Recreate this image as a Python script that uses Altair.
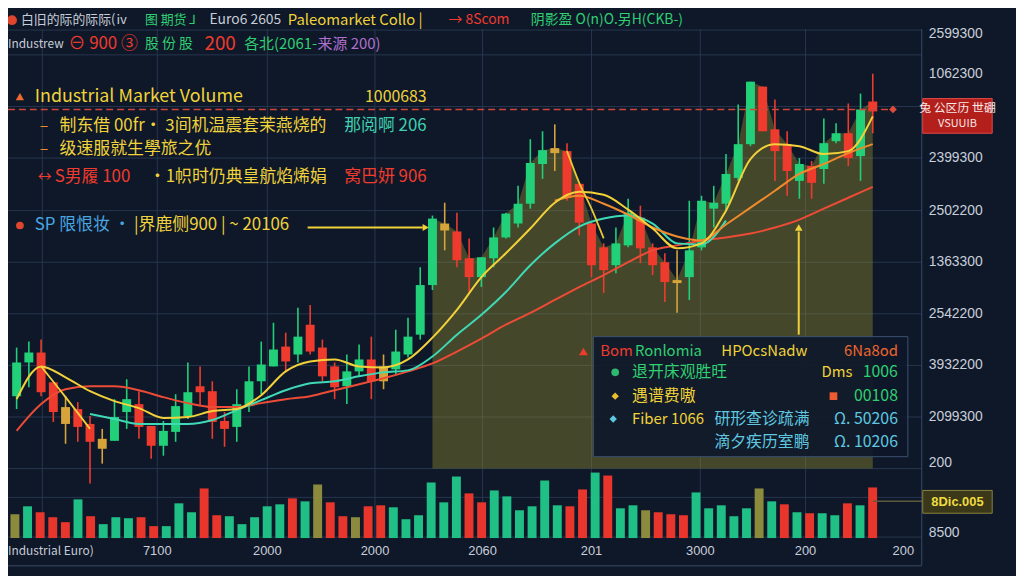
import altair as alt
import pandas as pd

# ---------------- data ----------------
opens  = [203,237,247,217,192,190,175,160,158,187,195,173,153,167,183,213,208,178,172,193,
          218,233,253,245,275,252,233,213,228,240,218,230,245,265,315,370,369,342,323,342,
          363,377,397,437,453,450,417,377,353,335,355,383,353,338,320,323,353,392,397,423,
          457,515,472,457,420,435,432,460,468,445,500]
closes = [237,247,207,187,175,172,157,150,182,200,172,153,168,193,207,207,177,170,195,218,
          235,250,238,263,248,223,212,228,240,218,233,248,263,315,382,377,340,323,343,363,
          387,397,438,451,448,403,378,335,330,357,388,352,335,318,317,350,400,398,427,457,
          520,470,450,430,437,418,458,468,443,492,490]
highs  = [252,258,260,217,203,197,183,170,200,220,208,173,178,205,237,233,218,187,210,233,
          258,277,267,292,295,260,237,245,255,263,245,270,282,333,385,398,388,362,343,373,
          388,415,462,470,477,458,418,378,357,373,402,395,357,347,350,400,405,415,447,497,
          520,515,502,470,443,440,483,478,498,508,528]
lows   = [190,212,203,177,155,157,115,135,158,170,160,140,143,157,180,193,160,152,157,187,
          205,233,228,237,245,218,200,195,223,200,210,225,242,260,310,350,333,308,313,333,
          362,373,392,422,430,400,365,323,307,327,353,337,325,298,287,300,350,373,390,420,
          455,470,420,405,402,402,417,458,435,420,468]
tones  = ["up","up","down","down","flat","down","down","flat","up","up",
          "down","down","up","up","up","down","down","down","up","up",
          "up","up","down","up","down","down","down","up","up","down",
          "flat","up","up","up","up","flat","down","down","up","up",
          "up","up","up","up","flat","down","down","down","down","up",
          "up","down","down","down","flat","up","up","up","up","up",
          "up","down","down","down","up","down","up","up","down","up","down"]

volumes = [24,32,26,21,16,39,22,14,21,20,21,12,12,35,26,50,23,22,14,21,
           32,34,40,37,54,36,22,21,32,33,31,19,23,56,36,62,45,36,48,42,
           28,32,58,33,32,49,66,63,30,33,28,26,24,23,46,30,33,22,30,50,
           37,34,26,25,25,23,35,33,51]
vol_tones = ["flat","up","down","down","down","up","down","up","up","up",
             "down","down","up","up","up","down","down","up","up","up",
             "up","up","down","up","flat","down","down","flat","down","down",
             "up","up","up","up","up","up","down","down","up","up",
             "up","up","up","up","down","down","up","down","up","up",
             "flat","down","down","down","up","up","up","up","up","flat",
             "up","down","up","down","up","up","down","up","down"]

ma_fast_idx = [0,2,4,6,8,10,12,14,16,18,20,22,24,26,28,30,32,34,36,38,40,42,44,46,48,50,52,54,56,58,60,62,64,66,68,70]
ma_fast = [200,233,222,208,198,191,181,182,188,190,204,228,238,240,233,232,240,262,290,323,
           347,372,398,409,406,391,372,352,357,390,442,457,455,447,450,485]
ma_mid_idx = [6,8,10,12,14,16,18,20,22,24,26,28,30,32,34,36,38,40,42,44,46,48,50,52,54,56,58]
ma_mid = [185,180,175,175,175,179,189,199,209,216,218,223,227,229,243,265,285,308,335,357,
          374,382,385,377,357,356,380]
ma_slow_idx = [0,2,4,6,8,10,12,14,16,18,20,22,24,26,28,30,32,34,36,38,40,42,44,46,48,50,52,54,56,58,60,62,64,66,68,70]
ma_slow = [168,195,210,213,213,209,202,196,192,192,196,200,203,209,215,221,228,236,248,261,
           275,287,300,313,325,338,350,355,360,363,367,373,381,392,403,414]
ma_orange_idx = [44,46,48,50,52,54,56,58,60,62,64,66,68,70]
ma_orange = [400,405,397,386,373,364,360,376,393,410,427,437,448,457]
fast_a_idx = [2,4,6]
fast_a = [233,202,170]
fast_b_idx = [45,46,47,48]
fast_b = [450,418,392,362]

ref_level = 492
area_base = 130
area_start = 34

y_ticks = [568,528,443,390,338,286,234,182,136,65]
y_labels = ["2599300","1062300","2399300","2502200","1363300","2542200","3932200","2099300","200","8500"]
x_ticks = [11.5,20.5,29.3,38.1,47.0,55.9,64.5,72.5]
x_labels = ["7100","2000","2000","2060","201","3000","200","200"]
h_grid = [572,547,495,443,390,338,286,234,182,130,101,61]
v_grid = [2.1,11.5,20.5,29.3,38.1,47.0,55.9,64.5]

# ---------------- styling ----------------
BG = "#0e1829"
GRID = "#27364f"
FONT = "Noto Sans CJK SC"
W, H = 921, 513

pscale = alt.Scale(domain=[60, 573], nice=False, zero=False)
xscale = alt.Scale(domain=[-0.3, 73.6], nice=False, zero=False)
tone_scale = alt.Scale(domain=["up", "down", "flat"], range=["#22d07a", "#ef3b2d", "#d6a43a"])
vtone_scale = alt.Scale(domain=["up", "down", "flat"], range=["#1fbf86", "#e8362c", "#8c8a3c"])

candles = pd.DataFrame({"i": list(range(len(opens))), "open": opens, "close": closes,
                        "high": highs, "low": lows, "tone": tones})
vol = pd.DataFrame({"j": list(range(len(volumes))), "v": volumes, "tone": vol_tones})

X = alt.X("i:Q", scale=xscale, axis=None)

hgrid = alt.Chart(pd.DataFrame({"p": h_grid})).mark_rule(color=GRID, strokeWidth=1).encode(
    y=alt.Y("p:Q", scale=pscale, axis=None), x=alt.value(0), x2=alt.value(W))

vgrid = alt.Chart(pd.DataFrame({"g": v_grid})).mark_rule(color=GRID, strokeWidth=1).encode(
    x=alt.X("g:Q", scale=xscale, axis=None), y=alt.value(0), y2=alt.value(H))

ylab = alt.Chart(pd.DataFrame({"p": y_ticks, "lab": y_labels})).mark_text(
    align="left", baseline="middle", color="#c9ced9", fontSize=14, font="Liberation Sans").encode(
    y=alt.Y("p:Q", scale=pscale, axis=None), x=alt.value(W + 7), text="lab:N")

xlab = alt.Chart(pd.DataFrame({"g": x_ticks, "lab": x_labels})).mark_text(
    align="center", baseline="middle", color="#c9ced9", fontSize=13, font="Liberation Sans").encode(
    x=alt.X("g:Q", scale=xscale, axis=None), y=alt.value(H + 13), text="lab:N")

area = alt.Chart(candles).transform_filter(alt.datum.i >= area_start).transform_calculate(
    top="max(datum.open, datum.close)").mark_area(color="#8f8a2e", opacity=0.42).encode(
    x=X, y=alt.Y("top:Q", scale=pscale, axis=None), y2=alt.datum(area_base))

wicks = alt.Chart(candles).mark_rule(strokeWidth=1.6).encode(
    x=X, y=alt.Y("low:Q", scale=pscale, axis=None), y2="high:Q",
    color=alt.Color("tone:N", scale=tone_scale, legend=None))

bodies = alt.Chart(candles).mark_bar(size=9).encode(
    x=X, y=alt.Y("open:Q", scale=pscale, axis=None), y2="close:Q",
    color=alt.Color("tone:N", scale=tone_scale, legend=None))

def ma_line(idx, vals, color, width=2.0):
    return alt.Chart(pd.DataFrame({"i": idx, "v": vals})).mark_line(
        color=color, strokeWidth=width, interpolate="monotone").encode(
        x=X, y=alt.Y("v:Q", scale=pscale, axis=None))

ma_layers = [
    ma_line(ma_slow_idx, ma_slow, "#ee4b36"),
    ma_line(ma_mid_idx, ma_mid, "#3fd9b5"),
    ma_line(ma_orange_idx, ma_orange, "#f08a2c"),
    ma_line(ma_fast_idx, ma_fast, "#f2d13a"),
    ma_line(fast_a_idx, fast_a, "#f2d13a", 1.8),
    ma_line(fast_b_idx, fast_b, "#e8c834", 1.8),
]

refline = alt.Chart(pd.DataFrame({"p": [ref_level]})).mark_rule(
    color="#d0453a", strokeDash=[7, 4], strokeWidth=1.5).encode(
    y=alt.Y("p:Q", scale=pscale, axis=None), x=alt.value(0), x2=alt.value(892))

price = alt.layer(hgrid, vgrid, area, wicks, bodies, *ma_layers, refline, ylab, xlab)

volume = alt.Chart(vol).mark_bar(size=9).encode(
    x=alt.X("j:Q", scale=alt.Scale(domain=[-0.156, 71.5], nice=False, zero=False), axis=None),
    y=alt.Y("v:Q", scale=alt.Scale(domain=[0, 513]), axis=None),
    color=alt.Color("tone:N", scale=vtone_scale, legend=None))

one = pd.DataFrame({"a": [0]})

def txt(s, x, y, color, size=15, align="left", weight="normal", font=FONT):
    return alt.Chart(one).mark_text(text=s, align=align, baseline="middle", color=color,
                                    fontSize=size, font=font, fontWeight=weight).encode(
        x=alt.value(x), y=alt.value(y))

def pt(x, y, color, shape="circle", size=60):
    return alt.Chart(one).mark_point(shape=shape, filled=True, size=size, color=color, opacity=1).encode(
        x=alt.value(x), y=alt.value(y))

def box(x, x2, y, y2, fill, stroke, op=1.0):
    return alt.Chart(one).mark_rect(fill=fill, stroke=stroke, strokeWidth=1, fillOpacity=op).encode(
        x=alt.value(x), x2=alt.value(x2), y=alt.value(y), y2=alt.value(y2))

def seg(x, x2, y, y2, color, w=2):
    return alt.Chart(one).mark_rule(color=color, strokeWidth=w).encode(
        x=alt.value(x), x2=alt.value(x2), y=alt.value(y), y2=alt.value(y2))

YEL = "#f0d23a"
GRN = "#2fcf72"
RED = "#ef3b2d"
GRY = "#c8ccd6"
BLU = "#4aa6e0"
CYN = "#5fc8e0"

HY = -9
notes = [
    # header line 1
    pt(4, HY, "#e0452e", size=100),
    txt("白旧的际的际际(ⅳ", 13, HY, GRY, 13),
    txt("图 期货 ⅃", 138, HY, GRN, 13),
    txt("Euro6 2605", 203, HY, GRY, 14),
    txt("Paleomarket Collo |", 282, HY, YEL, 15),
    txt("→ 8Scom", 444, HY, RED, 14),
    txt("阴影盈 O(n)O.另H(CKB-)", 527, HY, GRN, 14),
    # header line 2
    txt("Industrew", 0, 15, GRY, 12),
    txt("⊖ 900 ③", 61, 15, RED, 17),
    txt("股 份 股", 138, 15, GRN, 14),
    txt("200", 198, 15, RED, 19),
    txt("各北(2061-", 238, 15, GRN, 15),
    txt("来源 200)", 312, 15, "#b070d0", 15),
    # left annotation block
    pt(12, 68, "#f06a30", shape="triangle-up", size=70),
    txt("Industrial Market Volume", 27, 68, YEL, 18),
    txt("1000683", 422, 68, YEL, 16, align="right"),
    txt("–", 32, 98, "#f08a2c", 16),
    txt("制东借 00fr· 3间机温震套茉燕烧的", 52, 98, YEL, 17),
    txt("那阅啊 206", 422, 98, "#3fcfb0", 17, align="right"),
    txt("–", 32, 121, "#f08a2c", 16),
    txt("级速服就生學旅之优", 52, 121, YEL, 17),
    txt("↔", 30, 149, RED, 14),
    txt("S男履 100", 47, 149, RED, 17),
    txt("·1帜时仍典皇航焰烯娟", 142, 149, YEL, 17),
    txt("窝巴妍 906", 422, 149, RED, 17, align="right"),
    pt(12, 198, "#e0452e", size=60),
    txt("SP 限恨妆 ·", 27, 198, BLU, 17),
    txt("|界鹿侧900 | ~ 20106", 127, 198, YEL, 17),
    seg(302, 418, 200, 200, YEL, 2),
    pt(421, 200, YEL, shape="triangle-right", size=50),
    # bottom-right info box
    box(590, 907, 310, 431, BG, "#3c5272", 0.92),
    pt(580, 325, RED, shape="triangle-up", size=80),
    txt("Bom", 597, 325, RED, 15),
    txt("Ronlomia", 632, 325, GRN, 15),
    txt("HPOcsNadw", 719, 325, YEL, 15),
    txt("6Na8od", 897, 325, "#f0652e", 15, align="right"),
    pt(612, 346, "#2fb870", size=60),
    txt("退开床观胜旺", 629, 346, GRN, 16),
    txt("Dms", 820, 346, YEL, 15),
    txt("1006", 897, 346, GRN, 16, align="right"),
    pt(612, 370, "#e8c030", shape="diamond", size=55),
    txt("遇谱费嗷", 629, 370, YEL, 16),
    pt(832, 370, "#f05a30", shape="square", size=60),
    txt("00108", 897, 370, GRN, 16, align="right"),
    pt(610, 393, CYN, shape="diamond", size=55),
    txt("Fiber 1066", 629, 393, YEL, 15),
    txt("研形查诊疏满", 712, 393, CYN, 16),
    txt("Ω. 50206", 897, 393, CYN, 16, align="right"),
    txt("滴夕疾历室鹏", 712, 416, CYN, 16),
    txt("Ω. 10206", 897, 416, CYN, 16, align="right"),
    # vertical arrow
    seg(797, 797, 204, 308, YEL, 2),
    pt(797, 200, YEL, shape="triangle-up", size=60),
    # ref line marker, right border and right-hand tags
    pt(892, 81, "#e04a3a", shape="diamond", size=60),
    seg(W, W, 0, 541, "#3a4a66", 1),
    box(922, 992, 70, 105, "#b3201c", "#e04848"),
    txt("兔 公区历 世硼", 957, 80, "#f4e8e8", 12, align="center"),
    txt("VSUUIB", 957, 96, "#f4e8e8", 11, align="center"),
    seg(872, 922, 476, 476, "#5c5a3c", 1.5),
    box(922, 992, 465, 488, "#3a3818", "#8a8440"),
    txt("8Dic.005", 957, 477, "#f0dc40", 13, align="center", weight="bold", font="Liberation Sans"),
    # bottom caption and frame line
    txt("Industrial Euro)", 0, 526, GRY, 12),
    seg(0, W, 541, 541, "#3a4a66", 1),
]

chart = alt.layer(price, volume, *notes).resolve_scale(
    x="independent", y="independent", color="independent"
).properties(
    width=W, height=H,
    padding={"left": 0, "top": 19, "right": 95, "bottom": 36},
    autosize=alt.AutoSizeParams(type="none"),
    background=BG,
).configure_view(strokeWidth=0)

chart.save("out.html", embed_options={"renderer": "svg", "actions": False})
